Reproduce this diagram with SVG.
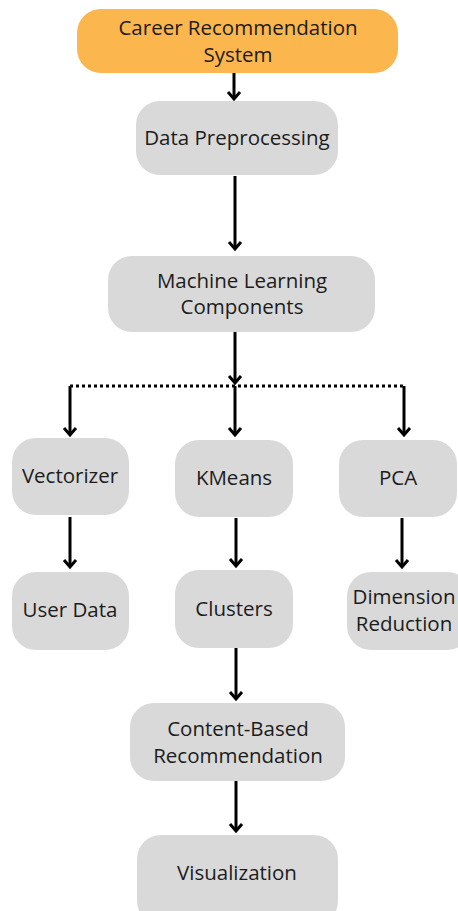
<svg xmlns="http://www.w3.org/2000/svg" width="458" height="911" viewBox="0 0 458 911">
<defs>
<style>
.box{fill:#d9d9d9;}
.top{fill:#fbb64d;}
.t{font-family:"Open Sans","Liberation Sans",sans-serif;font-size:20.5px;fill:#1c1c1c;text-anchor:middle;}
.c{stroke:#000;stroke-width:3;fill:none;}
.d{stroke:#000;stroke-width:3;fill:none;stroke-dasharray:3 3;}
</style>
</defs>
<rect width="458" height="911" fill="#fff"/>
<g id="connectors">
<line class="c" x1="234" y1="73" x2="234" y2="99"/>
<path class="c" d="M228,92 L234,99 L240,92"/>
<line class="c" x1="235" y1="176" x2="235" y2="249"/>
<path class="c" d="M229,242 L235,249 L241,242"/>
<line class="c" x1="235" y1="332" x2="235" y2="383"/>
<path class="c" d="M229,376 L235,383 L241,376"/>
<line class="d" x1="70" y1="386" x2="404" y2="386"/>
<line class="c" x1="70" y1="386" x2="70" y2="435"/>
<path class="c" d="M64,428 L70,435 L76,428"/>
<line class="c" x1="235" y1="386" x2="235" y2="435"/>
<path class="c" d="M229,428 L235,435 L241,428"/>
<line class="c" x1="404" y1="386" x2="404" y2="435"/>
<path class="c" d="M398,428 L404,435 L410,428"/>
<line class="c" x1="70" y1="517" x2="70" y2="567"/>
<path class="c" d="M64,560 L70,567 L76,560"/>
<line class="c" x1="236" y1="518" x2="236" y2="566"/>
<path class="c" d="M230,559 L236,566 L242,559"/>
<line class="c" x1="402" y1="518" x2="402" y2="567"/>
<path class="c" d="M396,560 L402,567 L408,560"/>
<line class="c" x1="236" y1="648" x2="236" y2="699"/>
<path class="c" d="M230,692 L236,699 L242,692"/>
<line class="c" x1="236" y1="781" x2="236" y2="831"/>
<path class="c" d="M230,824 L236,831 L242,824"/>
</g>
<g id="career">
<rect class="top" x="77" y="9" width="321" height="64" rx="24"/>
<text class="t" x="238" y="35">Career Recommendation</text>
<text class="t" x="238" y="62">System</text>
</g>
<g id="preprocessing">
<rect class="box" x="136" y="101" width="202" height="74" rx="24"/>
<text class="t" x="237" y="145">Data Preprocessing</text>
</g>
<g id="ml">
<rect class="box" x="108" y="256" width="267" height="76" rx="24"/>
<text class="t" x="242" y="288">Machine Learning</text>
<text class="t" x="242" y="314">Components</text>
</g>
<g id="vectorizer">
<rect class="box" x="12" y="438" width="117" height="77" rx="24"/>
<text class="t" x="70" y="483">Vectorizer</text>
</g>
<g id="kmeans">
<rect class="box" x="175" y="440" width="118" height="77" rx="24"/>
<text class="t" x="234" y="485">KMeans</text>
</g>
<g id="pca">
<rect class="box" x="339" y="440" width="118" height="77" rx="24"/>
<text class="t" x="398" y="485">PCA</text>
</g>
<g id="userdata">
<rect class="box" x="12" y="572" width="117" height="78" rx="24"/>
<text class="t" x="70" y="617">User Data</text>
</g>
<g id="clusters">
<rect class="box" x="175" y="570" width="118" height="78" rx="24"/>
<text class="t" x="234" y="616">Clusters</text>
</g>
<g id="dimension">
<rect class="box" x="347" y="572" width="124" height="78" rx="24"/>
<text class="t" x="404" y="604">Dimension</text>
<text class="t" x="404" y="631">Reduction</text>
</g>
<g id="content">
<rect class="box" x="130" y="703" width="215" height="78" rx="24"/>
<text class="t" x="238" y="736">Content-Based</text>
<text class="t" x="238" y="763">Recommendation</text>
</g>
<g id="visualization">
<rect class="box" x="137" y="835" width="201" height="90" rx="24"/>
<text class="t" x="237" y="880">Visualization</text>
</g>
</svg>
